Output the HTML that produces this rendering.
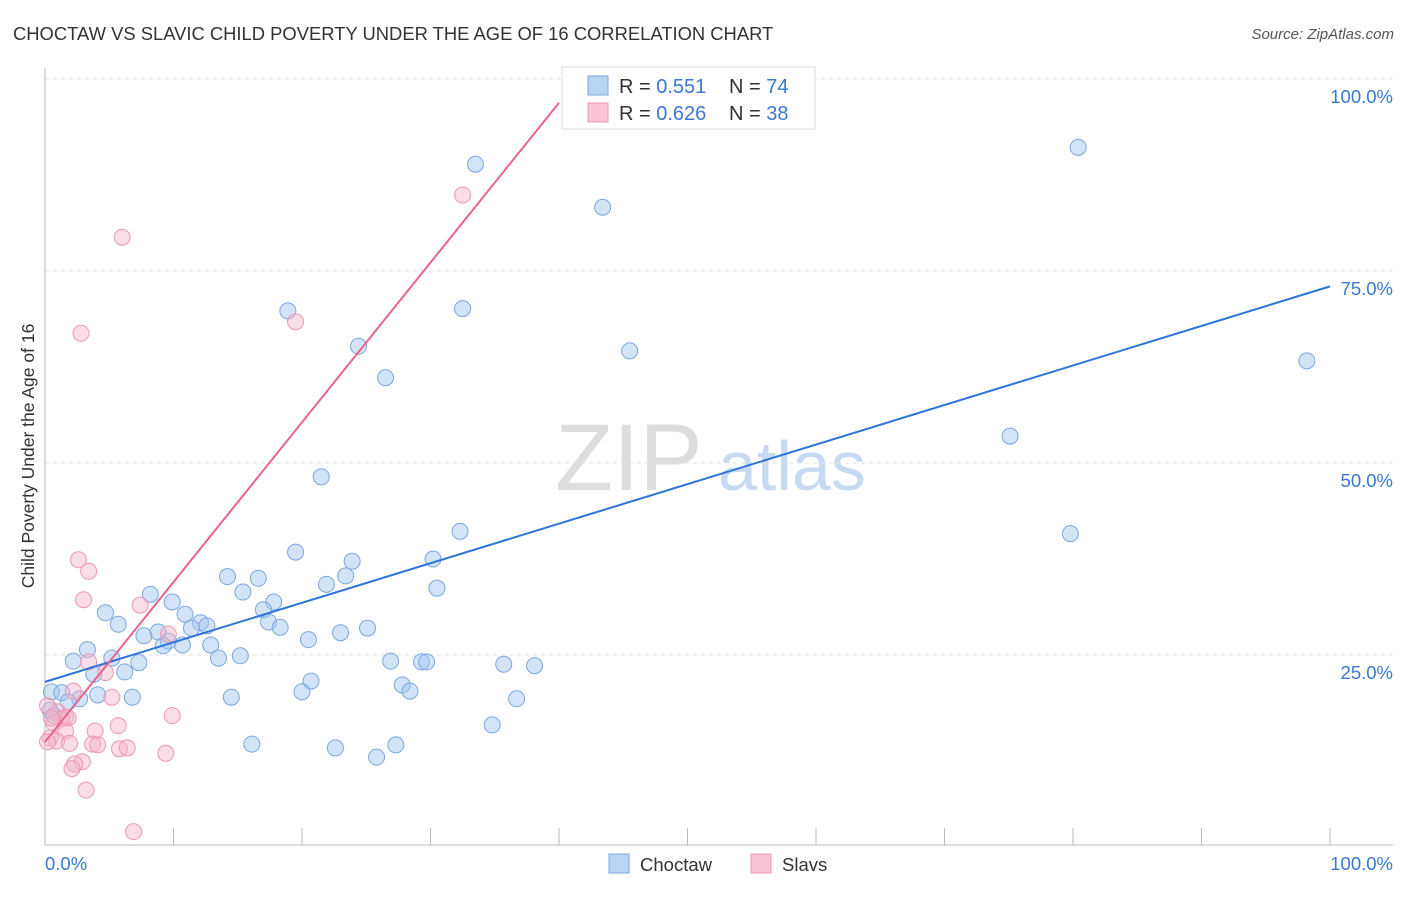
<!DOCTYPE html>
<html><head><meta charset="utf-8"><style>
body{margin:0;background:#fff;font-family:"Liberation Sans",sans-serif}
svg text{font-family:"Liberation Sans",sans-serif}
</style></head><body>
<svg id="c" width="1406" height="892">
<text x="13" y="40" font-size="18.4" fill="#333">CHOCTAW VS SLAVIC CHILD POVERTY UNDER THE AGE OF 16 CORRELATION CHART</text>
<text x="1394" y="39" font-size="15" fill="#555" font-style="italic" text-anchor="end">Source: ZipAtlas.com</text>
<text x="0" y="0" transform="translate(34,456) rotate(-90)" font-size="17.5" fill="#333" text-anchor="middle">Child Poverty Under the Age of 16</text>
<text x="555" y="490" font-size="95" fill="#ddd" font-family="Liberation Serif">ZIP</text>
<text x="718" y="490" font-size="70" fill="#c8daf2">atlas</text>
<g id="grid"></g><g id="pts"></g><g id="lines"></g>
<g>
<rect x="562" y="67" width="253" height="62" fill="#fff" stroke="#ddd"/>
<rect x="588" y="76" width="20" height="19" fill="#b9d3f5" stroke="#7aa7e3"/>
<rect x="588" y="103" width="20" height="19" fill="#f9c5d5" stroke="#ee98b4"/>
<text x="619" y="93" font-size="20" fill="#333">R = <tspan fill="#3a78d4">0.551</tspan><tspan x="729">N = </tspan><tspan fill="#3a78d4">74</tspan></text>
<text x="619" y="120" font-size="20" fill="#333">R = <tspan fill="#3a78d4">0.626</tspan><tspan x="729">N = </tspan><tspan fill="#3a78d4">38</tspan></text>
</g>
<g>
<rect x="609" y="854" width="20" height="19" fill="#b9d3f5" stroke="#7aa7e3"/>
<text x="640" y="871" font-size="18.5" fill="#333">Choctaw</text>
<rect x="751" y="854" width="20" height="19" fill="#f9c5d5" stroke="#ee98b4"/>
<text x="782" y="871" font-size="18.5" fill="#333">Slavs</text>
</g>
<text x="45" y="870" font-size="18.5" fill="#3a78d4">0.0%</text>
<text x="1393" y="870" font-size="18.5" fill="#3a78d4" text-anchor="end">100.0%</text>
</svg>
<script>
const yTicks=[25,50,75,100];
const yTickLabels=["25.0%","50.0%","75.0%","100.0%"];
const xTicks=[0,10,20,30,40,50,60,70,80,90,100];
const blueX=[33.5,80.4,43.4,18.9,32.5,24.4,45.5,26.5,98.2,75.1,21.5,32.3,79.8,19.5,23.9,30.2,14.2,16.6,23.4,21.9,30.5,15.4,8.2,17.8,17.0,9.9,4.7,10.9,5.7,17.4,12.1,12.6,11.4,25.1,18.3,7.7,8.8,9.6,20.5,23.0,9.2,10.7,12.9,3.3,2.2,5.2,13.5,15.2,7.3,26.9,29.3,29.7,35.7,38.1,3.8,6.2,20.7,27.8,0.5,1.3,20.0,28.4,4.1,6.8,14.5,2.7,36.7,1.8,0.4,0.7,34.8,16.1,22.6,27.3,25.8];
const blueY=[88.9,91.1,83.3,69.8,70.1,65.2,64.6,61.1,63.3,53.5,48.2,41.1,40.8,38.4,37.2,37.5,35.2,35.0,35.3,34.2,33.7,33.2,32.9,31.9,30.9,31.9,30.5,30.3,29.0,29.3,29.2,28.8,28.5,28.5,28.6,27.5,28.0,26.8,27.0,27.9,26.2,26.3,26.3,25.7,24.2,24.6,24.6,24.9,24.0,24.2,24.1,24.1,23.8,23.6,22.5,22.8,21.6,21.1,20.2,20.1,20.2,20.3,19.8,19.5,19.5,19.3,19.3,18.9,17.8,17.1,15.9,13.4,12.9,13.3,11.7];
const pinkX=[6.0,32.5,2.8,19.5,2.6,3.4,3.0,7.4,9.6,3.4,4.7,2.2,5.2,0.2,1.0,1.6,1.3,0.7,1.8,9.9,3.9,5.7,1.6,0.4,0.9,0.2,1.9,3.7,4.1,5.8,6.4,9.4,2.9,2.3,2.1,3.2,6.9,0.5];
const pinkY=[79.4,84.9,66.9,68.4,37.4,35.9,32.2,31.5,27.7,24.1,22.7,20.3,19.5,18.4,17.6,16.9,16.7,16.1,16.8,17.1,15.1,15.8,15.1,14.2,13.8,13.7,13.5,13.4,13.3,12.8,12.9,12.2,11.1,10.8,10.2,7.4,2.0,16.8];
const blueFit=[21.5,73.0];
const pinkFit=[13.7,2.08];
const X=v=>45+v*12.85, Y=v=>847-v*7.68;
const NS="http://www.w3.org/2000/svg";
function mk(t,a,p){const e=document.createElementNS(NS,t);for(const k in a)e.setAttribute(k,a[k]);p.appendChild(e);return e;}
const g=document.getElementById('grid');
yTicks.forEach((t,i)=>{
 const l=mk('line',{x1:45,x2:1393,y1:Y(t),y2:Y(t),stroke:'#e2e2e2','stroke-dasharray':'4,4'},g);
 
 
 const tx=mk('text',{x:1393,y:Y(t)+24,'font-size':18.5,fill:'#3a78d4','text-anchor':'end'},g);
 tx.textContent=yTickLabels[i];
 
 
});
const ax=mk('line',{x1:45,x2:1393,y1:845,y2:845,stroke:'#bbb'},g);


const ay=mk('line',{x1:45,x2:45,y1:68,y2:845,stroke:'#bbb'},g);


xTicks.forEach(t=>{
 const l=mk('line',{x1:X(t),x2:X(t),y1:828,y2:845,stroke:'#bbb'},g);
 
 
});
const p=document.getElementById('pts');
blueX.forEach((v,i)=>{
 const c=mk('circle',{cx:X(v),cy:Y(blueY[i]),r:8,fill:'rgba(160,195,240,0.45)',stroke:'#7aa7e3','stroke-width':1},p);
 
 
});
pinkX.forEach((v,i)=>{
 const c=mk('circle',{cx:X(v),cy:Y(pinkY[i]),r:8,fill:'rgba(245,180,200,0.45)',stroke:'#ee98b4','stroke-width':1},p);
 
 
});
const L=document.getElementById('lines');
const bl=mk('line',{x1:X(0),y1:Y(blueFit[0]),x2:X(100),y2:Y(blueFit[1]),stroke:'#2f74d8','stroke-width':2},L);


const pe=40;
const pl=mk('line',{x1:X(0),y1:Y(pinkFit[0]),x2:X(pe),y2:Y(pinkFit[0]+pinkFit[1]*pe),stroke:'#e8638f','stroke-width':2},L);


</script>
</body></html>
